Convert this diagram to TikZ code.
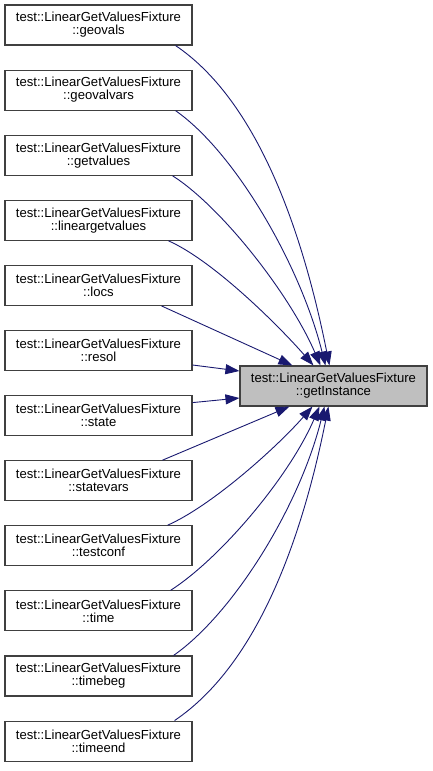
\documentclass[tikz,border=0pt]{standalone}
\usepackage{fontspec}
\setmainfont{Liberation Sans}
\usetikzlibrary{positioning, arrows.meta}
\definecolor{edgeblue}{HTML}{191970}
\definecolor{boxline}{HTML}{404040}
\definecolor{boxgray}{HTML}{BFBFBF}

\begin{document}
\begin{tikzpicture}[x=1pt, y=1pt,
    func/.style={draw=boxline, line width=1.1pt, minimum width=187pt, minimum height=40pt,
      inner sep=0pt, align=center, font=\fontsize{13.1}{13}\selectfont},
    current/.style={func, fill=boxgray},
    call/.style={draw=edgeblue, line width=0.9pt, -{Triangle[length=14pt, width=10pt]}},
    bendto/.style 2 args={to path={.. controls +(#1) and +(#2) .. (\tikztotarget)}}]
  \useasboundingbox (0,0) rectangle (432,-771);
  \node[func] at (98.5,-25) (geovals) {test::LinearGetValuesFixture\\::geovals};
  \node[func, below=24pt of geovals] (geovalvars) {test::LinearGetValuesFixture\\::geovalvars};
  \node[func, below=24pt of geovalvars] (getvalues) {test::LinearGetValuesFixture\\::getvalues};
  \node[func, below=24pt of getvalues] (lineargetvalues) {test::LinearGetValuesFixture\\::lineargetvalues};
  \node[func, below=24pt of lineargetvalues] (locs) {test::LinearGetValuesFixture\\::locs};
  \node[func, below=24pt of locs] (resol) {test::LinearGetValuesFixture\\::resol};
  \node[func, below=24pt of resol] (state) {test::LinearGetValuesFixture\\::state};
  \node[func, below=24pt of state] (statevars) {test::LinearGetValuesFixture\\::statevars};
  \node[func, below=24pt of statevars] (testconf) {test::LinearGetValuesFixture\\::testconf};
  \node[func, below=24pt of testconf] (time) {test::LinearGetValuesFixture\\::time};
  \node[func, below=24pt of time] (timebeg) {test::LinearGetValuesFixture\\::timebeg};
  \node[func, below=24pt of timebeg] (timeend) {test::LinearGetValuesFixture\\::timeend};
  \node[current] at (333.5,-386) (inst) {test::LinearGetValuesFixture\\::getInstance};
  \path[every edge/.style={call}]
    ([xshift=-17pt]geovals.south east) edge[bendto={80,-54}{-28,140}] ([xshift=90pt]inst.north west)
    ([xshift=-17pt]geovalvars.south east) edge[bendto={60,-42}{-25,100}] ([xshift=86pt]inst.north west)
    ([xshift=-20pt]getvalues.south east) edge[bendto={50,-32}{-30,70}] ([xshift=81pt]inst.north west)
    ([xshift=-24pt]lineargetvalues.south east) edge[bendto={45,-20}{-35,40}] ([xshift=74pt]inst.north west)
    ([xshift=-31pt]locs.south east) edge ([xshift=53pt]inst.north west)
    ([yshift=-14.5pt]resol.east) edge ([yshift=15pt]inst.west)
    ([yshift=13pt]state.east) edge ([yshift=-12pt]inst.west)
    ([xshift=-30pt]statevars.north east) edge ([xshift=50pt]inst.south west)
    ([xshift=-25pt]testconf.north east) edge[bendto={45,20}{-35,-40}] ([xshift=73pt]inst.south west)
    ([xshift=-22pt]time.north east) edge[bendto={50,32}{-30,-70}] ([xshift=80pt]inst.south west)
    ([xshift=-19pt]timebeg.north east) edge[bendto={60,42}{-25,-100}] ([xshift=85pt]inst.south west)
    ([xshift=-18pt]timeend.north east) edge[bendto={80,54}{-28,-140}] ([xshift=89pt]inst.south west);
\end{tikzpicture}
\end{document}
